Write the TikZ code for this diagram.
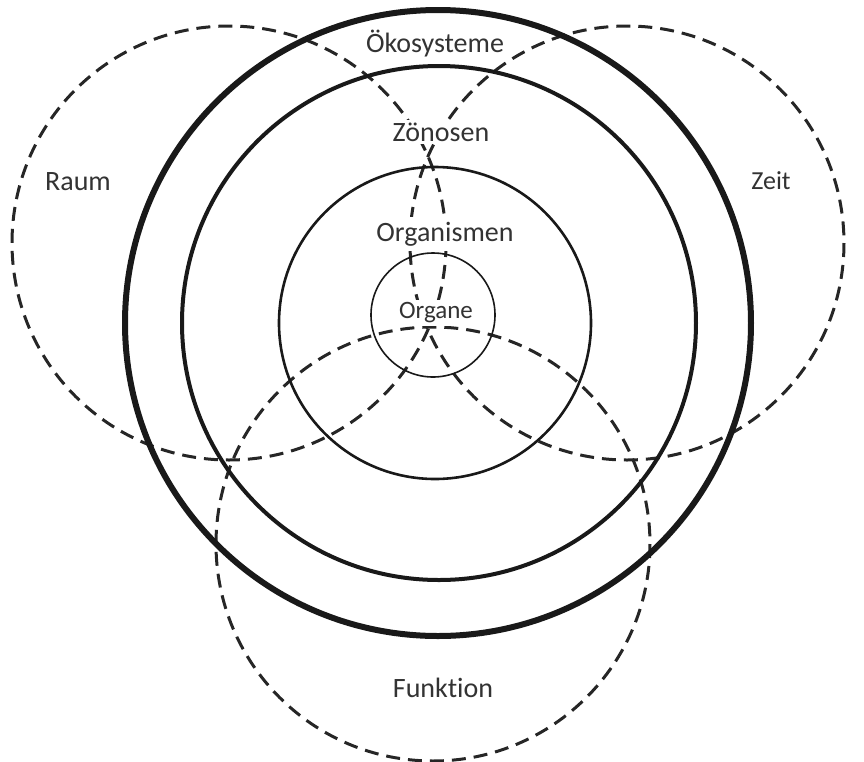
\documentclass[tikz,border=0pt]{standalone}
\usepackage{fontspec}
\setmainfont{Carlito}[Ligatures=NoCommon]

\begin{document}
\begin{tikzpicture}[x=0.5pt, y=-0.5pt,
    ring/.style={draw=black!90},
    dashring/.style={draw=black!85, line width=1.5pt, dash pattern=on 7pt off 4pt},
    lbl/.style={fill=white, inner sep=1.5pt, text=black!80, font=\fontsize{14}{16}\selectfont}]
    \useasboundingbox (0,0) rectangle (864,762);

    % Dashed circles: Raum, Zeit, Funktion
    \foreach \cx/\cy in {229/243, 627/243, 433/544}{
        \draw[dashring] (\cx,\cy) circle (217);
    }

    % Levels, inside out
    \foreach \cx/\cy/\r/\w in {433/315/62/0.8, 435/323/156/1.3, 439/323/257/2, 438/323/313/3}{
        \draw[ring, line width=\w pt] (\cx,\cy) circle (\r);
    }

    % Labels
    \node[lbl] (oeko) at (435,44) {Ökosysteme};
    \node[lbl] (zoen) at (441,132) {Zönosen};
    \node[lbl, inner sep=2.5pt] (orgm) at (445,234) {Organismen};
    \node[lbl, font=\fontsize{12.5}{14}\selectfont] (orga) at (436,313) {Organe};
    \node[lbl] (raum) at (78,182) {Raum};
    \node[lbl, font=\fontsize{13}{15}\selectfont] (zeit) at (771,181) {Zeit};
    \node[lbl] (funk) at (443,688) {Funktion};

\end{tikzpicture}
\end{document}
